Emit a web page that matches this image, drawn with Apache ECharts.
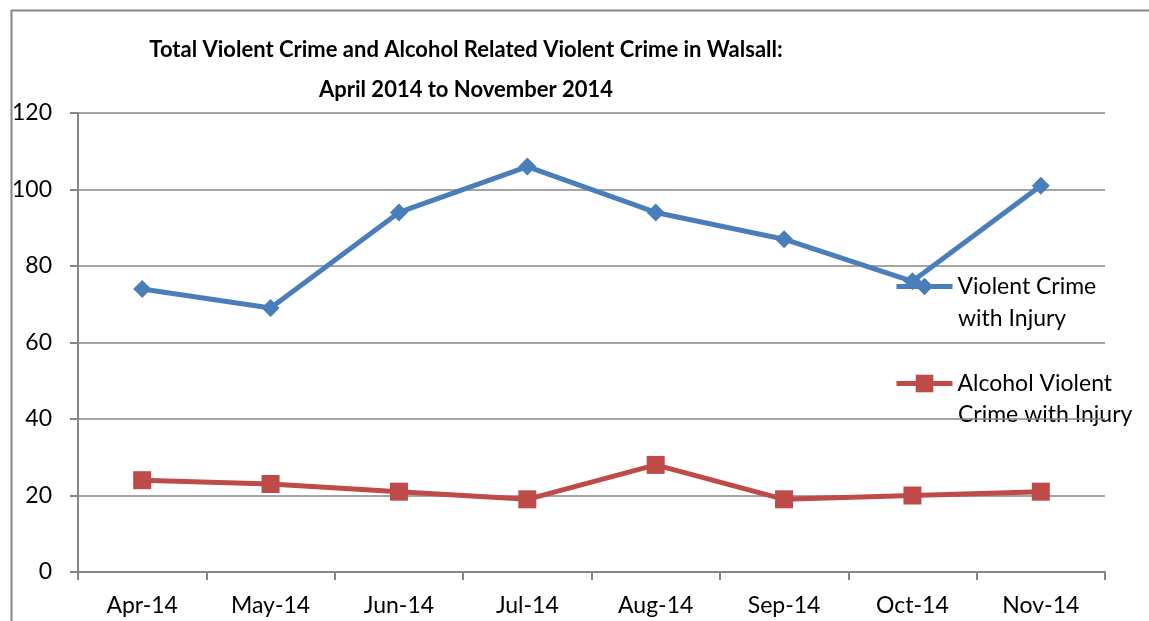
<!DOCTYPE html>
<html><head><meta charset="utf-8">
<script src="https://cdn.jsdelivr.net/npm/echarts@6/dist/echarts.min.js"></script>
<style>html,body{margin:0;padding:0;background:#fff}#c{width:1149px;height:621px}</style>
</head><body><div id="c"></div>
<script>
const categories = ['Apr-14','May-14','Jun-14','Jul-14','Aug-14','Sep-14','Oct-14','Nov-14'];
const violentCrime = [74, 69, 94, 106, 94, 87, 76, 101];
const alcoholViolent = [24, 23, 21, 19, 28, 19, 20, 21];
const yTicks = [0, 20, 40, 60, 80, 100, 120];
const titleLines = ['Total Violent Crime and Alcohol Related Violent Crime in Walsall:', 'April 2014 to November 2014'];
const seriesNames = ['Violent Crime with Injury', 'Alcohol Violent Crime with Injury'];
const legendFirstLines = ['Violent Crime', 'Alcohol Violent'];
const legendSecondLines = ['with Injury', 'Crime with Injury'];
const FONT = 'Lato, "Open Sans", sans-serif';
const chart = echarts.init(document.getElementById('c'));
chart.setOption({
  animation: false,
  backgroundColor: '#fff',
  graphic: [
    { type: 'rect', left: 9, top: 8, shape: { width: 1160, height: 640 },
      style: { fill: 'none', stroke: '#868686', lineWidth: 2 }, z: -1 },
    { type: 'text', x: 466, y: 50, style: { text: titleLines[0], align: 'center', verticalAlign: 'middle',
      font: 'bold 22px ' + FONT, fill: '#000' } },
    { type: 'text', x: 466, y: 90, style: { text: titleLines[1], align: 'center', verticalAlign: 'middle',
      font: 'bold 22px ' + FONT, fill: '#000' } },
    { type: 'text', x: 958, y: 319, style: { text: legendSecondLines[0], align: 'left', verticalAlign: 'middle',
      font: '23px ' + FONT, fill: '#000' } },
    { type: 'text', x: 958, y: 415, style: { text: legendSecondLines[1], align: 'left', verticalAlign: 'middle',
      font: '23px ' + FONT, fill: '#000' } }
  ],
  legend: {
    orient: 'vertical', left: 894, top: 270, padding: 0, itemGap: 64, itemWidth: 56, itemHeight: 22,
    data: seriesNames,
    formatter: n => legendFirstLines[seriesNames.indexOf(n)],
    textStyle: { fontFamily: FONT, fontSize: 23, color: '#000', lineHeight: 33 },
    lineStyle: { width: 5 }
  },
  grid: { left: 78, right: 44, top: 113, bottom: 49 },
  xAxis: {
    type: 'category', data: categories, boundaryGap: true,
    axisLine: { lineStyle: { color: '#868686', width: 2 } },
    axisTick: { show: true, length: 8, inside: false, lineStyle: { color: '#868686', width: 2 } },
    axisLabel: { fontFamily: FONT, fontSize: 23, color: '#000', margin: 22 }
  },
  yAxis: {
    type: 'value', min: yTicks[0], max: yTicks[yTicks.length-1], interval: 20,
    axisLine: { show: true, lineStyle: { color: '#868686', width: 2 } },
    axisTick: { show: true, length: 8, lineStyle: { color: '#868686', width: 2 } },
    splitLine: { lineStyle: { color: '#868686', width: 1.5 } },
    axisLabel: { fontFamily: FONT, fontSize: 23, color: '#000', margin: 26 }
  },
  series: [
    { name: seriesNames[0], type: 'line', data: violentCrime, symbol: 'diamond', symbolSize: 18,
      lineStyle: { color: '#4a7ebb', width: 5 }, itemStyle: { color: '#4a7ebb' } },
    { name: seriesNames[1], type: 'line', data: alcoholViolent, symbol: 'rect', symbolSize: 18,
      lineStyle: { color: '#be4b48', width: 5 }, itemStyle: { color: '#be4b48' } }
  ]
});
</script></body></html>
